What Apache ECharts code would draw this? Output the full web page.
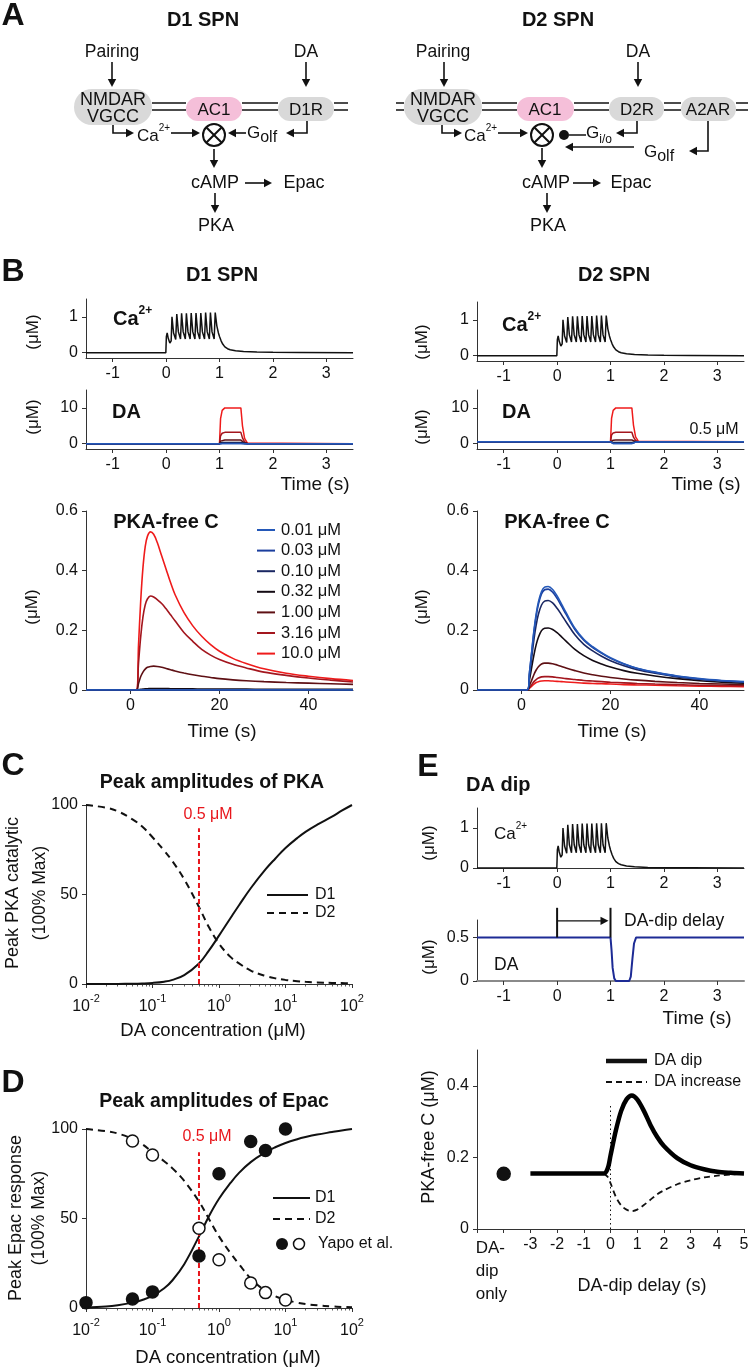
<!DOCTYPE html>
<html><head><meta charset="utf-8"><title>Figure</title>
<script src="https://cdn.jsdelivr.net/npm/echarts@6.0.0/dist/echarts.min.js"></script>
<style>html,body{margin:0;padding:0;background:#fff;}#chart{width:748px;height:1370px;}</style>
</head><body><div id="chart"></div>
<script>
// ================= DATA =================
// Ca2+ transient (s, uM) shared by panels B and E
const caTime = [-1.5,-0.005,0,0.005,0.02,0.04,0.07,0.095,0.11,0.14,0.18,0.2,0.23,0.27,0.29,0.32,0.36,0.38,0.41,0.45,0.47,0.5,0.54,0.56,0.59,0.63,0.65,0.68,0.72,0.74,0.77,0.81,0.83,0.86,0.9,0.92,0.95,0.98,1.0,1.03,1.06,1.1,1.15,1.2,1.3,1.45,1.7,2.0,2.5,3.5];
const caConc = [0,0,0,0.45,0.55,0.40,0.27,0.33,1.00,0.55,0.37,1.08,0.58,0.38,1.10,0.58,0.38,1.10,0.58,0.38,1.11,0.58,0.38,1.11,0.58,0.38,1.11,0.58,0.38,1.12,0.58,0.38,1.12,0.58,0.38,1.12,0.75,0.55,0.45,0.33,0.24,0.16,0.11,0.08,0.05,0.03,0.015,0.008,0.004,0];

// DA pulses (s, uM)
const concLabels = ['0.01 μM','0.03 μM','0.10 μM','0.32 μM','1.00 μM','3.16 μM','10.0 μM'];
const daTime = [-1.5,1.0,1.02,1.05,1.1,1.4,1.43,1.47,1.52,3.5];
const d1Da001 = [0,0,0.007,0.009,0.01,0.01,0.005,0.002,0,0];
const d1Da003 = [0,0,0.02,0.028,0.03,0.03,0.015,0.005,0,0];
const d1Da010 = [0,0,0.07,0.09,0.1,0.1,0.05,0.015,0,0];
const d1Da032 = [0,0,0.22,0.3,0.32,0.32,0.16,0.05,0.01,0];
const d1Da100 = [0,0,0.7,0.93,1,1,0.5,0.15,0.02,0];
const d1Da316 = [0,0,2.2,2.9,3.16,3.16,1.6,0.5,0.06,0];
const d1Da1000 = [0,0,7,9.3,10,10,5,1.5,0.2,0];
const d2Da001 = [0.5,0.5,0.16,0.04,0.01,0.01,0.26,0.42,0.49,0.5];
const d2Da003 = [0.5,0.5,0.17,0.06,0.03,0.03,0.27,0.42,0.49,0.5];
const d2Da010 = [0.5,0.5,0.22,0.13,0.1,0.1,0.3,0.43,0.49,0.5];
const d2Da032 = [0.5,0.5,0.37,0.33,0.32,0.32,0.41,0.47,0.5,0.5];
const d2Da100 = [0.5,0.5,0.85,0.97,1.0,1.0,0.75,0.58,0.51,0.5];
const d2Da316 = [0.5,0.5,2.4,3.0,3.16,3.16,1.8,0.9,0.55,0.5];
const d2Da1000 = [0.5,0.5,7.1,9.3,10,10,5.2,1.9,0.7,0.5];

// PKA-free C (s, uM)
const tPka = [-10,1.3,1.8,2.3,2.8,3.3,3.8,4.5,5.2,6,7,8,9,10,12,14,16,18,20,23,26,30,35,40,45,50];
const tFlat = [-10,50];
const d1Pka001 = [0,0];
const d1Pka003 = [0,0];
const d1Pka010 = [0,0];
const d1Pka032 = [0,0,0.001,0.002,0.003,0.004,0.004,0.005,0.005,0.005,0.005,0.005,0.004,0.004,0.004,0.004,0.003,0.003,0.003,0.003,0.003,0.002,0.002,0.002,0.002,0.002];
const d1Pka100 = [0,0,0.022,0.045,0.06,0.07,0.076,0.079,0.08,0.079,0.076,0.072,0.068,0.064,0.057,0.051,0.046,0.042,0.038,0.034,0.031,0.028,0.025,0.023,0.021,0.019];
const d1Pka316 = [0,0,0.09,0.18,0.245,0.285,0.305,0.315,0.312,0.303,0.29,0.272,0.252,0.232,0.193,0.163,0.136,0.117,0.102,0.086,0.074,0.06,0.049,0.04,0.033,0.027];
const d1Pka1000 = [0,0,0.15,0.30,0.41,0.48,0.515,0.53,0.522,0.495,0.45,0.405,0.36,0.32,0.26,0.215,0.18,0.152,0.13,0.106,0.089,0.071,0.056,0.046,0.038,0.032];
const d2Pka001 = [0,0,0.06,0.13,0.20,0.255,0.295,0.33,0.345,0.347,0.337,0.315,0.288,0.26,0.207,0.17,0.145,0.125,0.108,0.088,0.073,0.06,0.047,0.038,0.032,0.028];
const d2Pka003 = [0,0,0.058,0.127,0.195,0.248,0.287,0.322,0.336,0.338,0.328,0.307,0.281,0.254,0.203,0.167,0.142,0.123,0.106,0.087,0.072,0.059,0.046,0.037,0.031,0.027];
const d2Pka010 = [0,0,0.05,0.11,0.17,0.218,0.254,0.285,0.298,0.30,0.292,0.274,0.252,0.229,0.185,0.153,0.131,0.113,0.098,0.081,0.068,0.056,0.044,0.036,0.03,0.026];
const d2Pka032 = [0,0,0.035,0.077,0.118,0.152,0.177,0.199,0.207,0.208,0.203,0.192,0.178,0.164,0.136,0.115,0.099,0.087,0.077,0.065,0.056,0.047,0.038,0.031,0.026,0.023];
const d2Pka100 = [0,0,0.015,0.033,0.052,0.067,0.078,0.087,0.09,0.09,0.088,0.084,0.079,0.074,0.065,0.057,0.051,0.046,0.042,0.037,0.033,0.029,0.025,0.022,0.02,0.018];
const d2Pka316 = [0,0,0.008,0.018,0.028,0.035,0.04,0.044,0.045,0.045,0.044,0.042,0.04,0.038,0.035,0.032,0.03,0.028,0.026,0.024,0.022,0.02,0.018,0.016,0.015,0.014];
const d2Pka1000 = [0,0,0.006,0.013,0.02,0.025,0.028,0.03,0.031,0.031,0.03,0.029,0.028,0.027,0.025,0.023,0.022,0.021,0.02,0.018,0.017,0.016,0.014,0.013,0.012,0.011];

// Panels C and D: DA concentration grid (uM)
const daConc = [0.01,0.02,0.03,0.05,0.07,0.1,0.15,0.2,0.3,0.5,0.7,1,1.5,2,3,5,7,10,15,20,30,50,70,100];
// Panel C: peak PKA (% max)
const cD1 = [0,0.02,0.05,0.15,0.3,0.6,1.3,2.3,5,11.5,18.5,27,37,44,53.5,64,70,76,81.5,85,89,93.5,96.8,100];
const cD2 = [100,98.5,96.5,92,88,82,74.5,68.5,58.5,43,32,22.5,15,11.5,7.5,4.5,3.2,2.3,1.6,1.2,0.9,0.6,0.5,0.4];
const cRef = [[0.5,0],[0.5,87]];
// Panel D: peak Epac (% max)
const dD1 = [0.3,0.9,1.6,3,4.5,6.8,11,15.5,24.5,40,51,61,70,75.5,81.5,87,89.8,92.2,94.3,95.5,96.9,98.3,99.2,100];
const dD2 = [100,98.8,97.5,94.5,91.5,87,82,78,71,59.5,50,40,30.5,24.5,16.5,9.5,6.6,4.5,3,2.2,1.5,0.9,0.6,0.4];
const dRef = [[0.5,0],[0.5,87]];
const yapoD1 = [[0.01,3],[0.05,5],[0.1,9],[0.5,29],[1,75],[3,93],[5,88],[10,100]];
const yapoD2 = [[0.05,93.3],[0.1,85.5],[0.5,44.6],[1,27],[3,14],[5,8.6],[10,4.5]];

// Panel E
const dipTime = [-1.5,1.0,1.02,1.04,1.07,1.1,1.35,1.38,1.41,1.44,1.48,3.5];
const dipConc = [0.5,0.5,0.35,0.15,0.03,0,0,0.05,0.25,0.43,0.5,0.5];
const eDip = [[-3,0.155],[-0.25,0.155],[-0.1,0.17],[0,0.205],[0.2,0.275],[0.4,0.33],[0.6,0.362],[0.8,0.373],[1.0,0.362],[1.25,0.33],[1.5,0.29],[1.75,0.257],[2,0.232],[2.5,0.198],[3,0.178],[3.5,0.167],[4,0.16],[4.5,0.157],[5,0.155]];
const eIncrease = [[-0.25,0.155],[-0.1,0.145],[0,0.128],[0.2,0.09],[0.4,0.066],[0.6,0.054],[0.8,0.05],[1.0,0.054],[1.25,0.067],[1.5,0.082],[1.75,0.097],[2,0.108],[2.5,0.125],[3,0.136],[3.5,0.144],[4,0.149],[4.5,0.152],[5,0.155]];
const eDipOnly = [[-4,0.154]];
const eZero = [[0,0],[0,0.35]];
const dipDelayMarks = [0, 1];

// tick values / labels
const tTicksB = [-1,0,1,2,3];
const tTicksPka = [0,20,40];
const caTicks = [0,1];
const daTicks = [0,10];
const pkaTicks = [0,0.2,0.4,0.6];
const pctTicks = [0,50,100];
const eDaTicks = [0,0.5];
const ePkaTicks = [0,0.2,0.4];
const dipTicks = [-5,-4,-3,-2,-1,0,1,2,3,4,5];
const dipTickLabels = ['','DA-\ndip\nonly','-3','-2','-1','0','1','2','3','4','5'];
const logMinorTicks = [0.02,0.03,0.04,0.05,0.06,0.07,0.08,0.09,0.2,0.3,0.4,0.5,0.6,0.7,0.8,0.9,2,3,4,5,6,7,8,9,20,30,40,50,60,70,80,90];

// ================= STYLE =================
const FF = '"Liberation Sans", Arial, Helvetica, sans-serif';
const INK = '#111';
const AXC = '#333';
const CC = ['#2458b8','#1b3e9e','#1a2762','#140b14','#5e1014','#a3161e','#ef1b1b'];
const RED = '#e8161c';

const zip = (a, b) => a.map((v, i) => [v, b[i]]);

const grids = [
  {left:86, top:299, width:267, height:59},
  {left:86, top:390, width:267, height:59},
  {left:86, top:511, width:267, height:179},
  {left:477, top:302, width:267, height:59},
  {left:477, top:390, width:267, height:59},
  {left:477, top:511, width:267, height:179},
  {left:86, top:805, width:266, height:179},
  {left:86, top:1129, width:266, height:179},
  {left:477, top:808, width:267, height:60},
  {left:477, top:920, width:267, height:61},
  {left:477, top:1050, width:267, height:179}
].map(g => Object.assign(g, {containLabel:false, outerBoundsMode:'none'}));

function valAxis(grid, min, max, ticks, extra) {
  const ax = {
    type:'value', gridIndex:grid, min:min, max:max,
    axisLine:{show:true, onZero:false, lineStyle:{color:AXC, width:1}},
    axisTick:{show:true, inside:false, length:4, customValues:ticks, lineStyle:{color:AXC, width:1}},
    axisLabel:{show:true, customValues:ticks, fontSize:16, color:INK, fontFamily:FF, margin:8},
    splitLine:{show:false}
  };
  if (extra) {
    if (extra.axisLine) Object.assign(ax.axisLine.lineStyle, extra.axisLine);
    if (extra.axisLabel) Object.assign(ax.axisLabel, extra.axisLabel);
  }
  return ax;
}
function logAxis(grid) {
  return {
    type:'log', logBase:10, gridIndex:grid, min:0.01, max:100,
    axisLine:{show:true, onZero:false, lineStyle:{color:AXC, width:1}},
    axisTick:{show:true, inside:false, length:4, lineStyle:{color:AXC}},
    axisLabel:{show:true, margin:9, formatter:v => '{b|10}{s|' + Math.round(Math.log10(v)) + '}',
      rich:{b:{fontSize:16, lineHeight:22, verticalAlign:'bottom', color:INK, fontFamily:FF},
            s:{fontSize:11, lineHeight:12, verticalAlign:'top', color:INK, fontFamily:FF}}},
    minorTick:{show:false}, splitLine:{show:false}
  };
}
function logMinorAxis(grid) {
  return {
    type:'log', logBase:10, gridIndex:grid, min:0.01, max:100, position:'bottom',
    axisLine:{show:false, onZero:false},
    axisTick:{show:true, inside:false, length:2.5, customValues:logMinorTicks, lineStyle:{color:AXC, width:0.8}},
    axisLabel:{show:false}, splitLine:{show:false}
  };
}

const xAxes = [
  valAxis(0,-1.5,3.5,tTicksB), valAxis(1,-1.5,3.5,tTicksB), valAxis(2,-10,50,tTicksPka),
  valAxis(3,-1.5,3.5,tTicksB), valAxis(4,-1.5,3.5,tTicksB), valAxis(5,-10,50,tTicksPka),
  logAxis(6), logAxis(7),
  valAxis(8,-1.5,3.5,tTicksB), valAxis(9,-1.5,3.5,tTicksB,{axisLine:{color:'#8a8a8a', width:2}}),
  valAxis(10,-5,5,dipTicks,{axisLabel:{
    formatter:v => { const s = dipTickLabels[dipTicks.indexOf(Math.round(v))] || '';
      return s.indexOf('\n') >= 0 ? s.split('\n').map(p => '{o|' + p + '}').join('\n') : s; },
    rich:{o:{fontSize:17, lineHeight:23, width:36, align:'left', padding:[0,20,0,0], color:INK, fontFamily:FF}}}}),
  logMinorAxis(6), logMinorAxis(7)
];
const yAxes = [
  valAxis(0,-0.15,1.5,caTicks), valAxis(1,-1.5,15,daTicks), valAxis(2,0,0.6,pkaTicks),
  valAxis(3,-0.15,1.5,caTicks), valAxis(4,-1.5,15,daTicks), valAxis(5,0,0.6,pkaTicks),
  valAxis(6,0,100,pctTicks), valAxis(7,0,100,pctTicks),
  valAxis(8,0,1.5,caTicks), valAxis(9,0,0.7,eDaTicks), valAxis(10,0,0.5,ePkaTicks)
];

const S = [];
function line(i, data, color, w, o) {
  S.push(Object.assign({type:'line', xAxisIndex:i, yAxisIndex:i, data:data, symbol:'none', silent:true,
    animation:false, lineStyle:{color:color, width:w, type:(o && o.dash) || 'solid'}, itemStyle:{color:color}},
    (o && o.smooth) ? {smooth:o.smooth} : {}, (o && o.clip === false) ? {clip:false} : {}));
}
function dots(i, data, fill, stroke, size) {
  S.push({type:'scatter', xAxisIndex:i, yAxisIndex:i, data:data, symbol:'circle', symbolSize:size, silent:true,
    animation:false, clip:false, z:5, itemStyle:{color:fill, borderColor:stroke, borderWidth:1.5, opacity:1}});
}

// B left
line(0, zip(caTime, caConc), INK, 1.5);
[d1Da1000,d1Da316,d1Da100,d1Da032,d1Da010,d1Da003,d1Da001].forEach((d,k) => line(1, zip(daTime,d), CC[6-k], 1.5));
line(2, zip(tPka,d1Pka1000), CC[6], 1.6, {smooth:0.35});
line(2, zip(tPka,d1Pka316), CC[5], 1.6, {smooth:0.35});
line(2, zip(tPka,d1Pka100), CC[4], 1.6, {smooth:0.35});
line(2, zip(tPka,d1Pka032), CC[3], 1.6, {smooth:0.35});
line(2, zip(tFlat,d1Pka010), CC[2], 1.6);
line(2, zip(tFlat,d1Pka003), CC[1], 1.6);
line(2, zip(tFlat,d1Pka001), CC[0], 1.6);
// B right
line(3, zip(caTime, caConc), INK, 1.5);
[d2Da1000,d2Da316,d2Da100,d2Da032,d2Da010,d2Da003,d2Da001].forEach((d,k) => line(4, zip(daTime,d), CC[6-k], 1.5));
[d2Pka1000,d2Pka316,d2Pka100,d2Pka032,d2Pka010,d2Pka003,d2Pka001].forEach((d,k) => line(5, zip(tPka,d), CC[6-k], 1.6, {smooth:0.35}));
// C
line(6, zip(daConc, cD1), INK, 2, {smooth:0.4});
line(6, zip(daConc, cD2), INK, 2, {smooth:0.4, dash:[7,5]});
line(6, cRef, RED, 2, {dash:[5,3]});
// D
line(7, zip(daConc, dD1), INK, 2, {smooth:0.4});
line(7, zip(daConc, dD2), INK, 2, {smooth:0.4, dash:[7,5]});
line(7, dRef, RED, 2, {dash:[5,3]});
dots(7, yapoD1, INK, INK, 12);
dots(7, yapoD2, '#fff', INK, 12);
// E
line(8, zip(caTime, caConc), INK, 1.5);
line(9, zip(dipTime, dipConc), '#1d2b95', 2);
line(10, eZero, INK, 1, {dash:[1.5,3]});
line(10, eIncrease, INK, 1.8, {smooth:0.3, dash:[6,4]});
line(10, eDip, '#000', 4.5, {smooth:0.3});
dots(10, eDipOnly, INK, INK, 13);

const chart = echarts.init(document.getElementById('chart'), null, {renderer:'canvas', width:748, height:1370});
chart.setOption({animation:false, backgroundColor:'#fff', grid:grids, xAxis:xAxes, yAxis:yAxes, series:S});

// ================= GRAPHIC (diagram, labels, legends) =================
const G = [];
function T(x, y, text, size, o) {
  o = o || {};
  const st = {text:text, x:0, y:0, fontSize:size, fontFamily:FF, fontWeight:o.bold ? 'bold' : 'normal',
    fill:o.color || INK, align:o.align || 'center', verticalAlign:'middle'};
  if (o.rich) st.rich = o.rich;
  G.push({type:'text', x:x, y:y, rotation:o.rot || 0, z:100, style:st});
}
function seg(x1, y1, x2, y2, o) {
  o = o || {};
  G.push({type:'line', z:100, shape:{x1:x1,y1:y1,x2:x2,y2:y2}, style:{stroke:o.color || INK, lineWidth:o.w || 1.5, lineDash:o.dash || null}});
}
function arrow(pts, w) {
  const n = pts.length, a = pts[n-2], b = pts[n-1];
  const dx = b[0]-a[0], dy = b[1]-a[1], d = Math.hypot(dx,dy), ux = dx/d, uy = dy/d, L = 8, W = 4.2;
  const bx = b[0]-ux*L, by = b[1]-uy*L;
  G.push({type:'polyline', z:100, shape:{points:pts.slice(0,n-1).concat([[bx+ux*2, by+uy*2]])}, style:{stroke:INK, lineWidth:w || 1.6, fill:null}});
  G.push({type:'polygon', z:100, shape:{points:[[b[0],b[1]],[bx-uy*W,by+ux*W],[bx+uy*W,by-ux*W]]}, style:{fill:INK}});
}
function box(x, y, w, h, fill) {
  G.push({type:'rect', z:99, shape:{x:x,y:y,width:w,height:h,r:h/2}, style:{fill:fill}});
}
function circX(cx, cy, r) {
  G.push({type:'circle', z:100, shape:{cx:cx,cy:cy,r:r}, style:{fill:'#fff', stroke:INK, lineWidth:2}});
  const k = r*0.707;
  seg(cx-k, cy-k, cx+k, cy+k, {w:2});
  seg(cx-k, cy+k, cx+k, cy-k, {w:2});
}
function membrane(x1, x2) { seg(x1, 103, x2, 103); seg(x1, 110, x2, 110); }
const supR = (size, bold) => ({
  n:{fontSize:size, fontWeight:bold ? 'bold' : 'normal', fontFamily:FF, fill:INK, color:INK, lineHeight:size+4, verticalAlign:'bottom'},
  s:{fontSize:Math.round(size*0.6), fontWeight:bold ? 'bold' : 'normal', fontFamily:FF, fill:INK, color:INK, lineHeight:Math.round(size*0.7), verticalAlign:'top'}});
const subR = (size, sub) => ({
  n:{fontSize:size, fontFamily:FF, fill:INK, color:INK, lineHeight:size+4, verticalAlign:'top'},
  b:{fontSize:sub, fontFamily:FF, fill:INK, color:INK, lineHeight:sub-3, verticalAlign:'bottom'}});
const GRAY = '#d9d9d9', PINK = '#f5bfd9';

// ---- Panel A left (D1 SPN)
T(13, 16, 'A', 32, {bold:true});
T(203, 20, 'D1 SPN', 20, {bold:true});
T(112, 52, 'Pairing', 17.5); arrow([[112,62],[112,87]]);
T(306, 52, 'DA', 17.5); arrow([[306,62],[306,87]]);
membrane(152,186); membrane(242,278); membrane(334,348);
box(74, 89, 78, 36, GRAY); T(113, 100, 'NMDAR', 18); T(113, 117, 'VGCC', 18);
box(186, 97, 56, 24, PINK); T(214, 110, 'AC1', 17);
box(278, 97, 56, 24, GRAY); T(306, 110, 'D1R', 17);
arrow([[113,125],[113,133],[134,133]]);
T(137, 134, '{n|Ca}{s|2+}', 17, {align:'left', rich:supR(17,false)});
arrow([[171,133],[200,133]]);
circX(214, 135, 11);
arrow([[246,133],[228,133]]);
T(247, 135, '{n|G}{b|olf}', 17, {align:'left', rich:subR(17,16)});
arrow([[307,121],[307,133],[286,133]]);
arrow([[214,149],[214,168]]);
T(215, 183, 'cAMP', 18); arrow([[245,183],[272,183]]); T(304, 183, 'Epac', 18);
arrow([[215,193],[215,213]]); T(216, 226, 'PKA', 18);

// ---- Panel A right (D2 SPN)
T(558, 20, 'D2 SPN', 20, {bold:true});
T(443, 52, 'Pairing', 17.5); arrow([[444,62],[444,87]]);
T(638, 52, 'DA', 17.5); arrow([[638,62],[638,87]]);
membrane(396,404); membrane(482,517); membrane(574,609); membrane(664,681); membrane(736,748);
box(404, 89, 78, 36, GRAY); T(443, 100, 'NMDAR', 18); T(443, 117, 'VGCC', 18);
box(517, 97, 57, 24, PINK); T(545, 110, 'AC1', 17);
box(609, 97, 55, 24, GRAY); T(637, 110, 'D2R', 17);
box(681, 97, 55, 24, GRAY); T(708, 110, 'A2AR', 17);
arrow([[442,125],[442,133],[462,133]]);
T(464, 134, '{n|Ca}{s|2+}', 17, {align:'left', rich:supR(17,false)});
arrow([[498,133],[528,133]]);
circX(542, 135, 11);
G.push({type:'circle', z:100, shape:{cx:564, cy:135, r:5}, style:{fill:INK}});
seg(569, 135, 586, 135);
T(586, 135, '{n|G}{b|i/o}', 17, {align:'left', rich:subR(17,12)});
arrow([[637,121],[637,133],[616,133]]);
arrow([[634,147],[565,147]]);
T(644, 154, '{n|G}{b|olf}', 17, {align:'left', rich:subR(17,16)});
arrow([[708,121],[708,151],[689,151]]);
arrow([[542,148],[542,168]]);
T(546, 183, 'cAMP', 18); arrow([[573,183],[601,183]]); T(631, 183, 'Epac', 18);
arrow([[547,193],[547,213]]); T(548, 226, 'PKA', 18);

// ---- Panel B
T(13, 272, 'B', 32, {bold:true});
T(222, 275, 'D1 SPN', 20, {bold:true});
T(614, 275, 'D2 SPN', 20, {bold:true});
const ROT = Math.PI/2;
T(33, 332, '(μM)', 17, {rot:ROT}); T(33, 417, '(μM)', 17, {rot:ROT});
T(113, 317, '{n|Ca}{s|2+}', 20, {align:'left', rich:supR(20,true)});
T(112, 412, 'DA', 20, {bold:true, align:'left'});
T(315, 485, 'Time (s)', 19);
T(32, 607, '(μM)', 17, {rot:ROT});
T(166, 522, 'PKA-free C', 20, {bold:true});
T(222, 732, 'Time (s)', 19);
concLabels.forEach((lab, i) => { const y = 530 + i*20.6; seg(257, y, 275, y, {color:CC[i], w:2}); T(281, y, lab, 16.5, {align:'left'}); });
T(422, 342, '(μM)', 17, {rot:ROT}); T(422, 427, '(μM)', 17, {rot:ROT});
T(502, 323, '{n|Ca}{s|2+}', 20, {align:'left', rich:supR(20,true)});
T(502, 412, 'DA', 20, {bold:true, align:'left'});
T(714, 430, '0.5 μM', 16);
T(706, 485, 'Time (s)', 19);
T(422, 607, '(μM)', 17, {rot:ROT});
T(557, 522, 'PKA-free C', 20, {bold:true});
T(612, 732, 'Time (s)', 19);

// ---- Panel C
T(13, 766, 'C', 32, {bold:true});
T(212, 783, 'Peak amplitudes of PKA', 19.5, {bold:true});
T(13, 893, 'Peak PKA catalytic', 18, {rot:ROT});
T(40, 893, '(100% Max)', 17.5, {rot:ROT});
T(208, 815, '0.5 μM', 16, {color:RED});
seg(267, 895, 308, 895, {w:2}); T(315, 895, 'D1', 16, {align:'left'});
seg(267, 913, 308, 913, {w:2, dash:[7,5]}); T(315, 913, 'D2', 16, {align:'left'});
T(213, 1031, 'DA concentration (μM)', 18.5);

// ---- Panel D
T(13, 1083, 'D', 32, {bold:true});
T(214, 1102, 'Peak amplitudes of Epac', 19.5, {bold:true});
T(16, 1218, 'Peak Epac response', 18, {rot:ROT});
T(39, 1218, '(100% Max)', 17.5, {rot:ROT});
T(207, 1137, '0.5 μM', 16, {color:RED});
seg(273, 1198, 310, 1198, {w:2}); T(315, 1198, 'D1', 16, {align:'left'});
seg(273, 1219, 310, 1219, {w:2, dash:[7,5]}); T(315, 1219, 'D2', 16, {align:'left'});
G.push({type:'circle', z:100, shape:{cx:282, cy:1244, r:6}, style:{fill:INK}});
G.push({type:'circle', z:100, shape:{cx:299, cy:1244, r:5.5}, style:{fill:'#fff', stroke:INK, lineWidth:1.5}});
T(318, 1244, 'Yapo et al.', 16, {align:'left'});
T(228, 1358, 'DA concentration (μM)', 18.5);

// ---- Panel E
T(428, 767, 'E', 32, {bold:true});
T(466, 785, 'DA dip', 20, {bold:true, align:'left'});
T(429, 843, '(μM)', 17, {rot:ROT}); T(429, 957, '(μM)', 17, {rot:ROT});
T(494, 832, '{n|Ca}{s|2+}', 17, {align:'left', rich:supR(17,false)});
T(494, 965, 'DA', 17.5, {align:'left'});
T(697, 1019, 'Time (s)', 19);
const pA0 = chart.convertToPixel({xAxisIndex:9, yAxisIndex:9}, [dipDelayMarks[0], 0.5]);
const pA1 = chart.convertToPixel({xAxisIndex:9, yAxisIndex:9}, [dipDelayMarks[1], 0.5]);
const pTop = chart.convertToPixel({xAxisIndex:9, yAxisIndex:9}, [0, 0.84]);
const pArr = chart.convertToPixel({xAxisIndex:9, yAxisIndex:9}, [0, 0.69]);
seg(pA0[0], pA0[1], pA0[0], pTop[1], {w:2});
seg(pA1[0], pA1[1], pA1[0], pTop[1], {w:2});
arrow([[pA0[0], pArr[1]], [pA1[0]-2, pArr[1]]], 1.2);
T(624, 921, 'DA-dip delay', 17.5, {align:'left'});
T(429, 1137, 'PKA-free C (μM)', 18, {rot:ROT});
seg(606, 1061, 647, 1061, {w:4.5}); T(654, 1061, 'DA dip', 16, {align:'left'});
seg(606, 1082, 647, 1082, {w:1.8, dash:[6,4]}); T(654, 1082, 'DA increase', 16, {align:'left'});
T(642, 1286, 'DA-dip delay (s)', 18);

chart.setOption({graphic:{elements:G}});
</script></body></html>
